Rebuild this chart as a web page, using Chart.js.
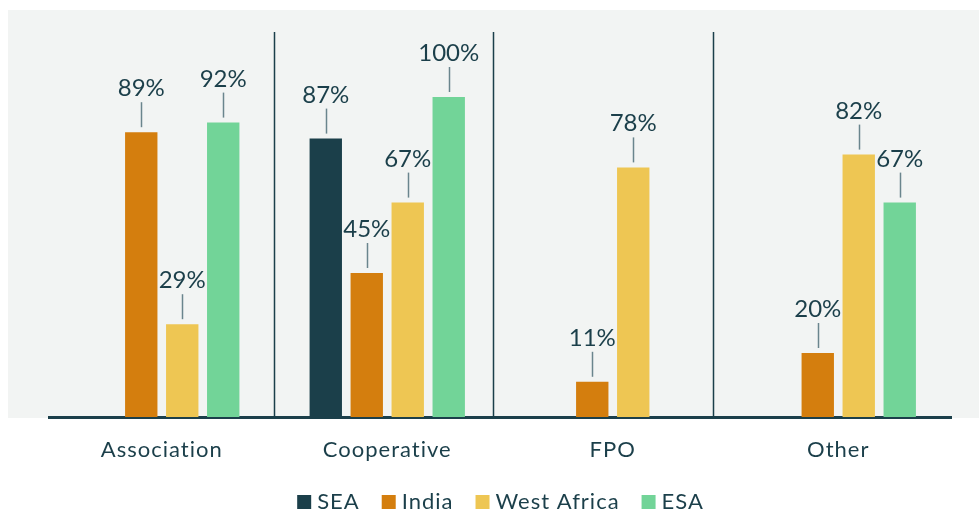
<!DOCTYPE html>
<html>
<head>
<meta charset="utf-8">
<script src="https://cdn.jsdelivr.net/npm/chart.js@4.4.1/dist/chart.umd.min.js"></script>
<style>
  html, body { margin: 0; padding: 0; background: #ffffff; }
  #wrap { width: 979px; height: 510px; }
</style>
</head>
<body>
<div id="wrap"><canvas id="chart"></canvas></div>
<script>
// categories and series (%)
const categories = ['Association', 'Cooperative', 'FPO', 'Other'];
const seaData = [null, 87, null, null];
const indiaData = [89, 45, 11, 20];
const westAfricaData = [29, 67, 78, 82];
const esaData = [92, 100, null, 67];

const ink = '#1b3f4a';

// axis labels are a bit letter-spaced in the original
const spacing = {
  id: 'spacing',
  beforeLayout(chart) { chart.ctx.letterSpacing = '1px'; },
  beforeDraw(chart) { chart.ctx.letterSpacing = '1px'; }
};

// grey panel behind the plot + separators between groups
const panel = {
  id: 'panel',
  beforeDraw(chart) {
    const { ctx, chartArea: a } = chart;
    ctx.save();
    ctx.fillStyle = '#f2f4f3';
    ctx.fillRect(8, 10, chart.width - 8, a.bottom + 1 - 10);
    ctx.restore();
  },
  beforeDatasetsDraw(chart) {
    const { ctx, chartArea: a, scales } = chart;
    ctx.save();
    ctx.strokeStyle = ink;
    ctx.lineWidth = 1.5;
    [0.498, 1.47, 2.445].forEach(v => {
      const x = Math.round(scales.x.getPixelForValue(v)) + 0.5;
      ctx.beginPath();
      ctx.moveTo(x, a.top - 1);
      ctx.lineTo(x, a.bottom);
      ctx.stroke();
    });
    ctx.restore();
  }
};

// value labels with a short leader line
const valueLabels = {
  id: 'valueLabels',
  afterDatasetsDraw(chart) {
    const { ctx } = chart;
    ctx.save();
    ctx.letterSpacing = '0px';
    ctx.font = '24px Lato';
    ctx.textAlign = 'center';
    ctx.textBaseline = 'alphabetic';
    chart.data.datasets.forEach((ds, i) => {
      chart.getDatasetMeta(i).data.forEach((bar, j) => {
        const v = ds.data[j];
        if (v == null) return;
        const x = Math.round(bar.x) + 0.5;
        ctx.strokeStyle = '#6a858d';
        ctx.lineWidth = 1.5;
        ctx.beginPath();
        ctx.moveTo(x, bar.y - 5);
        ctx.lineTo(x, bar.y - 30);
        ctx.stroke();
        ctx.fillStyle = ink;
        ctx.fillText(v + '%', bar.x, bar.y - 36);
      });
    });
    ctx.restore();
  }
};

// legend row under the axis labels
const legendRow = {
  id: 'legendRow',
  afterDraw(chart) {
    const { ctx, chartArea: a } = chart;
    const box = 14, gap = 6, itemGap = 23;
    ctx.save();
    ctx.letterSpacing = '1px';
    ctx.font = '22px Lato';
    ctx.textBaseline = 'alphabetic';
    ctx.textAlign = 'left';
    const items = chart.data.datasets.map(ds => ({
      label: ds.label, color: ds.backgroundColor,
      w: ctx.measureText(ds.label).width - 1
    }));
    const total = items.reduce((s, it) => s + box + gap + it.w, 0) + itemGap * (items.length - 1);
    let x = (a.left + a.right) / 2 - total / 2;
    const top = 495;
    items.forEach(it => {
      ctx.fillStyle = it.color;
      ctx.fillRect(x, top, box, box);
      ctx.fillStyle = ink;
      ctx.fillText(it.label, x + box + gap, top + box);
      x += box + gap + it.w + itemGap;
    });
    ctx.restore();
  }
};

new Chart(document.getElementById('chart'), {
  type: 'bar',
  data: {
    labels: categories,
    datasets: [
      { label: 'SEA', data: seaData, backgroundColor: '#1b3f4a' },
      { label: 'India', data: indiaData, backgroundColor: '#d47e0e' },
      { label: 'West Africa', data: westAfricaData, backgroundColor: '#eec653' },
      { label: 'ESA', data: esaData, backgroundColor: '#72d498' }
    ]
  },
  options: {
    responsive: true,
    maintainAspectRatio: false,
    animation: false,
    categoryPercentage: 0.727,
    barPercentage: 0.79,
    layout: { padding: { left: 49, right: 28, top: 33, bottom: 47 } },
    plugins: {
      legend: { display: false },
      tooltip: { enabled: false }
    },
    scales: {
      x: {
        grid: { display: false, drawTicks: false },
        border: { display: true, color: ink, width: 3 },
        ticks: { color: ink, padding: 20, font: { family: 'Lato', size: 22 } },
        afterFit(axis) { axis.height = 46; }
      },
      y: {
        display: false,
        min: 0,
        max: 120
      }
    }
  },
  plugins: [spacing, panel, valueLabels, legendRow]
});
</script>
</body>
</html>
